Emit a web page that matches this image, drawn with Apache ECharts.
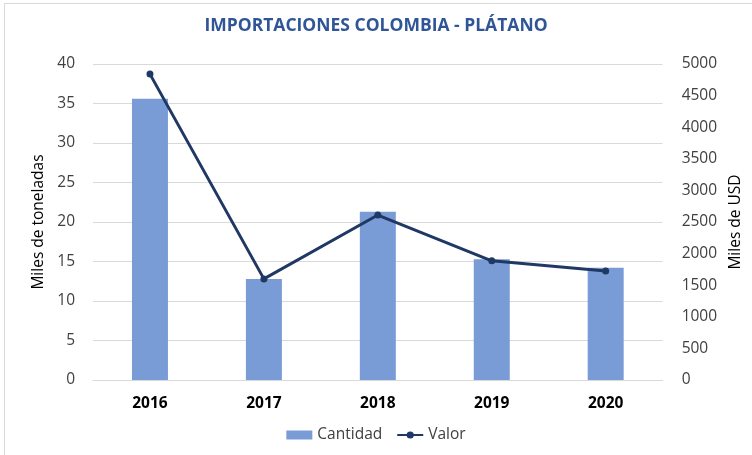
<!DOCTYPE html>
<html>
<head>
<meta charset="utf-8">
<script src="https://cdn.jsdelivr.net/npm/echarts@6/dist/echarts.min.js"></script>
<style>
  html, body { margin: 0; padding: 0; background: #fff; overflow: hidden; }
  #frame { position: absolute; left: 4px; top: 3px; width: 800px; height: 500px; border: 1px solid #D9D9D9; box-sizing: border-box; }
  #chart { position: absolute; left: 0; top: 0; width: 752px; height: 455px; }
</style>
</head>
<body>
<div id="frame"></div>
<div id="chart"></div>
<script>
var years = ['2016', '2017', '2018', '2019', '2020'];
var cantidad = [35.6, 12.8, 21.3, 15.3, 14.2];
var valor = [4840, 1600, 2610, 1885, 1725];

var chartDom = document.getElementById('chart');
var myChart = echarts.init(chartDom);
var font = '"Open Sans", sans-serif';

var option = {
  textStyle: { fontFamily: font },
  title: {
    text: 'IMPORTACIONES COLOMBIA - PLÁTANO',
    left: 'center',
    top: 12,
    textStyle: { color: '#2F5597', fontSize: 17.5, fontWeight: 'bold', fontFamily: font }
  },
  legend: {
    bottom: 7,
    left: 'center',
    itemGap: 14,
    itemWidth: 26,
    itemHeight: 9,
    textStyle: { color: '#404040', fontSize: 15.5, fontFamily: font },
    data: [
      { name: 'Cantidad', icon: 'rect' },
      { name: 'Valor' }
    ]
  },
  grid: { left: 93, right: 84, top: 64, bottom: 75 },
  xAxis: {
    type: 'category',
    data: years,
    axisTick: { show: false },
    axisLine: { lineStyle: { color: '#D9D9D9' } },
    axisLabel: { color: '#000', fontWeight: 'bold', fontSize: 15.5, margin: 16, fontFamily: font }
  },
  yAxis: [
    {
      type: 'value',
      min: 0, max: 40, interval: 5,
      name: 'Miles de toneladas',
      nameLocation: 'middle',
      nameGap: 35,
      nameTextStyle: { color: '#000', fontSize: 15.5, fontFamily: font },
      axisLabel: { color: '#404040', fontSize: 15.5, margin: 18, fontFamily: font },
      splitLine: { lineStyle: { color: '#D9D9D9' } }
    },
    {
      type: 'value',
      min: 0, max: 5000, interval: 500,
      name: 'Miles de USD',
      nameLocation: 'middle',
      nameGap: 64,
      nameTextStyle: { color: '#000', fontSize: 15.5, fontFamily: font },
      axisLabel: { color: '#404040', fontSize: 15.5, margin: 19, fontFamily: font, formatter: function (v) { return String(v); } },
      splitLine: { show: false }
    }
  ],
  series: [
    {
      name: 'Cantidad',
      type: 'bar',
      data: cantidad,
      barWidth: 36,
      itemStyle: { color: '#7A9CD6' }
    },
    {
      name: 'Valor',
      type: 'line',
      yAxisIndex: 1,
      data: valor,
      symbol: 'circle',
      symbolSize: 7,
      lineStyle: { color: '#203864', width: 3 },
      itemStyle: { color: '#203864' }
    }
  ]
};

myChart.setOption(option);
</script>
</body>
</html>
